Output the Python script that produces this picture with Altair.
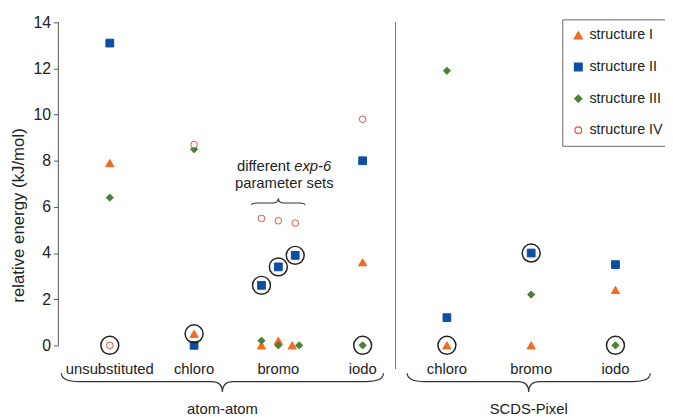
import altair as alt
import pandas as pd

# ---------------- data ----------------
structures = ["structure I", "structure II", "structure III", "structure IV"]
columns = ["unsubstituted", "chloro", "bromo", "bromo", "bromo", "iodo", "chloro", "bromo", "iodo"]
methods = ["atom-atom"] * 6 + ["SCDS-Pixel"] * 3
param_set = [1, 1, 1, 2, 3, 1, 1, 1, 1]
struct_I = [7.9, 0.5, 0.0, 0.2, 0.0, 3.6, 0.0, 0.0, 2.4]
struct_II = [13.1, 0.0, 2.6, 3.4, 3.9, 8.0, 1.2, 4.0, 3.5]
struct_III = [6.4, 8.5, 0.2, 0.0, 0.0, 0.0, 11.9, 2.2, 0.0]
struct_IV = [0.0, 8.7, 5.5, 5.4, 5.3, 9.8, None, None, None]
observed = ["structure IV", "structure I", "structure II", "structure II", "structure II",
            "structure III", "structure I", "structure II", "structure III"]
y_ticks = [0, 2, 4, 6, 8, 10, 12, 14]
y_title = "relative energy (kJ/mol)"
annotation_lines = ["different", "exp-6", "parameter sets"]

colors_fill = ["#F26B1F", "#0B4EA2", "#4B8236", "#FFFFFF"]
colors_stroke = ["#F26B1F", "#0B4EA2", "#4B8236", "#E8503A"]
shapes = ["triangle-up", "square", "diamond", "circle"]
sizes = [70, 45, 62, 60]

# ---------------- layout ----------------
W_PLOT, H_PLOT = 606, 390
XMIN, XMAX = 0.39, 7.494
YMIN, YMAX = -2.7, 14
PX_X = W_PLOT / (XMAX - XMIN)
PX_Y = H_PLOT / (YMAX - YMIN)
FONT = "Liberation Sans"
TXT = "#222222"

# ---------------- build tables ----------------
rows, slot_keys = [], []
for i, col in enumerate(columns):
    key = (methods[i], col)
    if key not in slot_keys:
        slot_keys.append(key)
    slot = slot_keys.index(key) + 1
    nsets = sum(1 for j in range(len(columns)) if (methods[j], columns[j]) == key)
    offset = (param_set[i] - (nsets + 1) / 2) * 0.2 if nsets > 1 else 0.0
    vals = dict(zip(structures, [struct_I[i], struct_II[i], struct_III[i], struct_IV[i]]))
    for s, v in vals.items():
        if v is None:
            continue
        dx = 0.0
        if nsets > 1 and vals["structure I"] == vals["structure III"]:
            dx = -3 / PX_X if s == "structure I" else (4 / PX_X if s == "structure III" else 0.0)
        rows.append(dict(method=methods[i], column=col, structure=s,
                         x=slot + offset + dx, y=v, observed=(s == observed[i])))
df = pd.DataFrame(rows)
df_obs = df[df["observed"]]

cat_df = pd.DataFrame([dict(x=i + 1, label=k[1]) for i, k in enumerate(slot_keys)])
cat_df["y"] = -1.02

xs = alt.Scale(domain=[XMIN, XMAX], nice=False, zero=False)
ys = alt.Scale(domain=[YMIN, YMAX], nice=False, zero=False)
Y_AXIS = alt.Axis(values=y_ticks, title=y_title, domain=False, grid=False,
                  tickSize=5, tickColor="#555555", labelFontSize=16, labelFont=FONT,
                  labelColor=TXT, labelPadding=3, titleFontSize=17, titleFont=FONT,
                  titleFontWeight="normal", titleColor=TXT, titlePadding=6)


def X(f="x"):
    return alt.X(f"{f}:Q", scale=xs, axis=None)


def Y(f="y"):
    return alt.Y(f"{f}:Q", scale=ys, axis=Y_AXIS, title=y_title)


def brace_path(w, h, r, c, mid_frac, down=True):
    a, e = w / 2, h / 2
    m = -e + mid_frac * h
    s = 1 if down else -1

    def f(x, y):
        return f"{x / a:.4f},{s * y / a:.4f}"

    return (f"M{f(-a, -e)}Q{f(-a, m)} {f(-a + r, m)}L{f(-c, m)}Q{f(0, m)} {f(0, e)}"
            f"Q{f(0, m)} {f(c, m)}L{f(a - r, m)}Q{f(a, m)} {f(a, -e)}")


# axis line and separator
axis_line = alt.Chart(pd.DataFrame({"x": [XMIN], "y": [min(y_ticks)], "y2": [max(y_ticks)]})).mark_rule(
    color="#555555", strokeWidth=1).encode(x=X(), y=Y(), y2="y2:Q")
sep = alt.Chart(pd.DataFrame({"x": [4.39], "y": [-1.03], "y2": [max(y_ticks)]})).mark_rule(
    color="#777777", strokeWidth=1).encode(x=X(), y=Y(), y2="y2:Q")

points = alt.Chart(df).mark_point(filled=True, opacity=1, strokeWidth=1).encode(
    x=X(),
    y=Y(),
    shape=alt.Shape("structure:N", scale=alt.Scale(domain=structures, range=shapes)),
    fill=alt.Fill("structure:N", scale=alt.Scale(domain=structures, range=colors_fill)),
    stroke=alt.Stroke("structure:N", scale=alt.Scale(domain=structures, range=colors_stroke)),
    size=alt.Size("structure:N", scale=alt.Scale(domain=structures, range=sizes),
                  legend=alt.Legend(title=None, orient="none", legendX=510, legendY=-3,
                                    direction="vertical", strokeColor="#666666", fillColor="white",
                                    padding=9, rowPadding=17, labelFontSize=14.5, labelFont=FONT,
                                    labelColor=TXT, labelOffset=4, symbolStrokeWidth=1.2)),
)

rings = alt.Chart(df_obs).mark_point(shape="circle", filled=False, size=330, stroke="#222222",
                                     strokeWidth=1.5, opacity=1).encode(x=X(), y=Y())

cat_labels = alt.Chart(cat_df).mark_text(font=FONT, fontSize=15, color=TXT, baseline="middle").encode(
    x=X(), y=Y(), text="label:N")

# group braces + labels
groups = ["atom-atom", "SCDS-Pixel"]
brace_spans = {"atom-atom": (0.426, 4.247), "SCDS-Pixel": (4.529, 7.413)}
layers_braces = []
for g in groups:
    lo, hi = brace_spans[g]
    w = (hi - lo) * PX_X
    cx = (lo + hi) / 2
    path = brace_path(w, 19, 18, 11, 0.44)
    bdf = pd.DataFrame({"x": [cx], "y": [-1.62], "label": [g]})
    ldf = pd.DataFrame({"x": [cx], "y": [-2.78], "label": [g]})
    layers_braces.append(alt.Chart(bdf).mark_point(shape=path, filled=False, size=w * w, stroke="#333333",
                                                   strokeWidth=1.2, opacity=1).encode(x=X(), y=Y()))
    layers_braces.append(alt.Chart(ldf).mark_text(font=FONT, fontSize=15, color=TXT, baseline="middle").encode(
        x=X(), y=Y(), text="label:N"))

# annotation over the bromo parameter sets
bromo_slot = slot_keys.index(("atom-atom", "bromo")) + 1
ann_x = bromo_slot + 6 / PX_X
ann1 = pd.DataFrame({"x": [ann_x], "y": [7.75], "t1": [annotation_lines[0]], "t2": [annotation_lines[1]]})
ann2 = pd.DataFrame({"x": [ann_x], "y": [7.03], "t": [annotation_lines[2]]})
a1 = alt.Chart(ann1).mark_text(font=FONT, fontSize=15, color=TXT, align="right", dx=6, baseline="middle").encode(
    x=X(), y=Y(), text="t1:N")
a2 = alt.Chart(ann1).mark_text(font=FONT, fontSize=15, color=TXT, align="left", dx=10, fontStyle="italic",
                               baseline="middle").encode(x=X(), y=Y(), text="t2:N")
a3 = alt.Chart(ann2).mark_text(font=FONT, fontSize=15, color=TXT, baseline="middle").encode(
    x=X(), y=Y(), text="t:N")
small_w = 54
small_brace = alt.Chart(pd.DataFrame({"x": [bromo_slot], "y": [6.23]})).mark_point(
    shape=brace_path(small_w, 7, 6, 6, 0.3, down=False), filled=False, size=small_w * small_w,
    stroke="#333333", strokeWidth=1.1, opacity=1).encode(x=X(), y=Y())

chart = alt.layer(points, axis_line, sep, rings, cat_labels, *layers_braces, a1, a2, a3, small_brace).properties(
    width=W_PLOT, height=H_PLOT,
    padding={"left": 51, "top": 12, "right": 8, "bottom": 8},
    autosize=alt.AutoSizeParams(type="none"),
    background="white",
).configure_view(stroke=None)

chart.save("out.html", embed_options={"renderer": "svg", "actions": False})
